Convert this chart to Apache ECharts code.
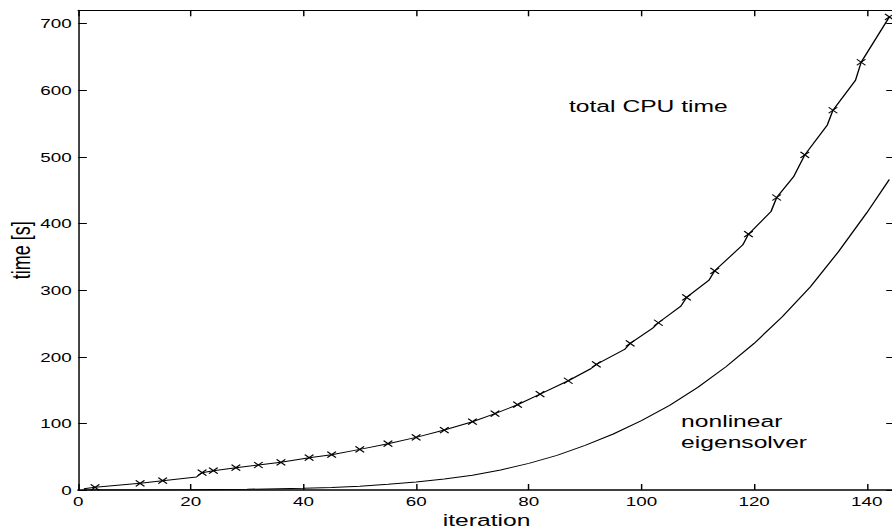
<!DOCTYPE html>
<html>
<head>
<meta charset="utf-8">
<title>CPU time per iteration</title>
<script src="https://cdn.jsdelivr.net/npm/echarts@6/dist/echarts.min.js"></script>
<style>
  html, body { margin: 0; padding: 0; background: #fff; overflow: hidden; width: 892px; height: 531px; }
  /* the figure is laid out at a narrower width and widened horizontally */
  #chart { width: 616px; height: 531px; transform: scaleX(1.45); transform-origin: 0 0; }
</style>
</head>
<body>
<div id="chart"></div>
<script>
// ---- data -------------------------------------------------------------
// total CPU time [s] after each sampled iteration
const cpuIter = [1, 3, 11, 15, 21, 22, 24, 28, 32, 36, 41, 45, 50, 55, 60, 65, 70, 74, 78, 82,
                 87, 91, 92, 97, 98, 102, 103, 107, 108, 112, 113, 118, 119, 123, 124, 127, 129,
                 133, 134, 138, 139, 144];
const cpuTime = [2, 4, 10, 14, 19.5, 26, 29, 33.5, 37.5, 41.5, 48.5, 53, 61, 69.5, 79, 90, 102.5,
                 114.6, 128, 144, 164, 182, 188.6, 211, 220, 243, 251, 276, 289, 315, 329, 368,
                 384, 418, 439, 470, 503, 548, 570, 615, 642, 710];
// iterations flagged with a cross on the total CPU time curve
const markedIter = [3, 11, 15, 22, 24, 28, 32, 36, 41, 45, 50, 55, 60, 65, 70, 74, 78, 82, 87,
                    92, 98, 103, 108, 113, 119, 124, 129, 134, 139, 144];
// time spent in the nonlinear eigensolver [s]
const eigIter = [1, 10, 20, 30, 40, 45, 50, 55, 60, 65, 70, 75, 80, 85, 90, 95, 100, 105, 110,
                 115, 120, 125, 130, 135, 140, 144];
const eigTime = [0, 0.1, 0.4, 1.1, 2.5, 3.8, 5.5, 8.5, 12, 16.5, 22, 30, 40, 52, 67, 84, 104,
                 127, 154, 185, 220, 260, 305, 358, 416, 466];
// axis ranges and tick steps
const xRange = [0, 145], xStep = 20;
const yRange = [0, 720], yStep = 100;
const xName = 'iteration';
const yName = 'time [s]';
const cpuLabel = 'total CPU time';
const eigLabel = 'nonlinear\neigensolver';

// ---- styling ----------------------------------------------------------
const FONT = "'Liberation Sans', Arial, Helvetica, sans-serif";
const INK = '#000';
const CROSS = 'path://M0,0L10,10M10,0L0,10';

function frameAxis(extra) {
  return Object.assign({
    type: 'value',
    axisLine: { show: true, onZero: false, lineStyle: { color: INK, width: 1 } },
    axisTick: { show: true, inside: true, length: 6, lineStyle: { color: INK, width: 1 } },
    axisLabel: { show: false },
    splitLine: { show: false }
  }, extra);
}

const tickLabel = (margin) => ({
  show: true, margin: margin, fontFamily: FONT, fontSize: 13, color: INK, showMaxLabel: false
});

const cpuData = cpuIter.map((it, i) => ({
  value: [it, cpuTime[i]],
  symbol: markedIter.includes(it) ? CROSS : 'none'
}));
const eigData = eigIter.map((it, i) => [it, eigTime[i]]);

const chart = echarts.init(document.getElementById('chart'), null, { renderer: 'svg' });

chart.setOption({
  animation: false,
  backgroundColor: '#fff',
  grid: { left: 53.9, top: 10.3, width: 563.3, height: 479.7, containLabel: false, outerBoundsMode: 'none' },
  xAxis: [
    frameAxis({
      position: 'bottom', min: xRange[0], max: xRange[1], interval: xStep,
      name: xName, nameLocation: 'middle', nameGap: 21.5, nameMoveOverlap: false,
      nameTextStyle: { fontFamily: FONT, fontSize: 17, color: INK },
      axisLine: { show: true, onZero: false, lineStyle: { color: INK, width: 1.5 } },
      axisLabel: tickLabel(5)
    }),
    frameAxis({ position: 'top', min: xRange[0], max: xRange[1], interval: xStep })
  ],
  yAxis: [
    frameAxis({
      position: 'left', min: yRange[0], max: yRange[1], interval: yStep,
      name: yName, nameLocation: 'middle', nameGap: 30, nameMoveOverlap: false,
      nameTextStyle: { fontFamily: FONT, fontSize: 18, color: INK },
      axisLabel: tickLabel(4.5)
    }),
    frameAxis({ position: 'right', min: yRange[0], max: yRange[1], interval: yStep })
  ],
  series: [
    {
      name: cpuLabel,
      type: 'line',
      xAxisIndex: 0, yAxisIndex: 0,
      data: cpuData,
      symbol: 'none',
      symbolSize: 6,
      showSymbol: true,
      showAllSymbol: true,
      lineStyle: { color: INK, width: 1 },
      itemStyle: { color: 'rgba(0,0,0,0)', borderColor: INK, borderWidth: 1 },
      emphasis: { disabled: true },
      silent: true
    },
    {
      name: 'nonlinear eigensolver',
      type: 'line',
      xAxisIndex: 0, yAxisIndex: 0,
      data: eigData,
      symbol: 'none',
      lineStyle: { color: INK, width: 1 },
      emphasis: { disabled: true },
      silent: true
    }
  ],
  graphic: [
    {
      type: 'text', left: 392.4, top: 94.9, silent: true,
      style: { text: cpuLabel, fontFamily: FONT, fontSize: 17, lineHeight: 21.6, fill: INK }
    },
    {
      type: 'text', left: 469.7, top: 409.9, silent: true,
      style: { text: eigLabel, fontFamily: FONT, fontSize: 17, lineHeight: 21.6, fill: INK }
    }
  ]
});
</script>
</body>
</html>
